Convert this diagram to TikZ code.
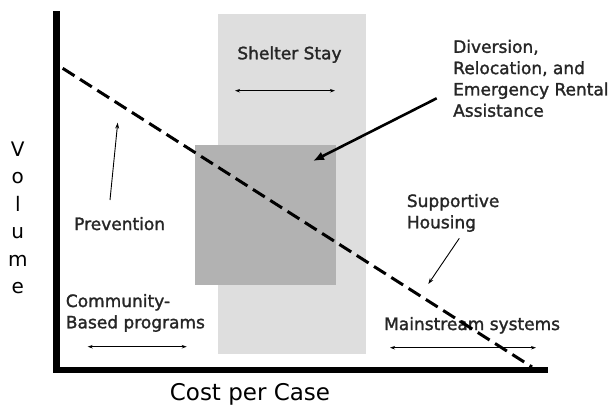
\documentclass[tikz,border=0pt]{standalone}
\usepackage{fontspec}
\setmainfont{DejaVu Sans}
\newfontfamily\lblfont{DejaVu Sans}[FakeBold=1.6]
\usetikzlibrary{arrows.meta}
\definecolor{shelter}{RGB}{222,222,222}
\definecolor{diversion}{RGB}{178,178,178}

\begin{document}
\begin{tikzpicture}[x=1pt,y=-1pt,
    lbl/.style={inner sep=0pt,align=left,font=\lblfont\fontsize{17}{21.3}\selectfont,text=black!85},
    span/.style={{Stealth[length=5pt,width=3.5pt]}-{Stealth[length=5pt,width=3.5pt]},line width=0.9pt},
    pointer/.style={-{Stealth[length=6pt,width=4pt]},line width=0.9pt}]
  \useasboundingbox (0,0) rectangle (614,407);
  % shaded ranges
  \node[fill=shelter,inner sep=0pt,minimum width=148pt,minimum height=340pt] (shelter) at (292,184) {};
  \node[fill=diversion,inner sep=0pt,minimum width=141pt,minimum height=140pt] (diversion) at (265.5,215) {};
  % labels (base of a multi-line node = its last line)
  \node[lbl,anchor=base] (shelterlbl) at (289.5,59.3) {Shelter Stay};
  \node[lbl,anchor=base west] (divlbl) at (453,116.7) {Diversion,\\Relocation, and\\Emergency Rental\\Assistance};
  \node[lbl,anchor=base west] (prevlbl) at (74,230) {Prevention};
  \node[lbl,anchor=base west] (commlbl) at (65.7,328.3) {Community-\\Based programs};
  \node[lbl,anchor=base west] (suplbl) at (406.7,228.3) {Supportive\\Housing};
  \node[lbl,anchor=base west] (mainlbl) at (384,330) {Mainstream systems};
  \node[inner sep=0pt,align=center,anchor=base,font=\fontsize{20}{27.5}\selectfont] (vol) at (17.8,293.5) {V\\o\\l\\u\\m\\e};
  \node[inner sep=0pt,anchor=base,font=\fontsize{23}{26}\selectfont] (cost) at (250,400.5) {Cost per Case};
  % cost curve
  \coordinate (curvetop) at (62.7,68.3);
  \coordinate (curvebot) at (532,367);
  \draw[line width=3pt,dash pattern=on 14pt off 6.5pt] (curvetop) -- (curvebot);
  % axes
  \coordinate (ytop) at (56.5,11);
  \coordinate (xend) at (548,370);
  \draw[line width=6.8pt,line join=miter] (ytop) |- (xend);
  % ranges
  \coordinate (sl) at (235,90.7);
  \coordinate (sr) at (335,90.7);
  \draw[span] (sl) -- (sr);
  \coordinate (cl) at (87.7,346.7);
  \coordinate (cr) at (186.7,346.7);
  \draw[span] (cl) -- (cr);
  \coordinate (ml) at (390,347.7);
  \coordinate (mr) at (536,347.7);
  \draw[span] (ml) -- (mr);
  % pointers
  \coordinate (prevtail) at (110,200);
  \coordinate (prevtip) at (117.7,122.7);
  \draw[pointer] (prevtail) -- (prevtip);
  \coordinate (suptail) at (459.3,238.3);
  \coordinate (suptip) at (428.3,284);
  \draw[pointer] (suptail) -- (suptip);
  \coordinate (divtail) at (436.7,98.3);
  \coordinate (divtip) at (313,161);
  \draw[-{Latex[length=11pt,width=9pt]},line width=2.6pt] (divtail) -- (divtip);
\end{tikzpicture}
\end{document}
